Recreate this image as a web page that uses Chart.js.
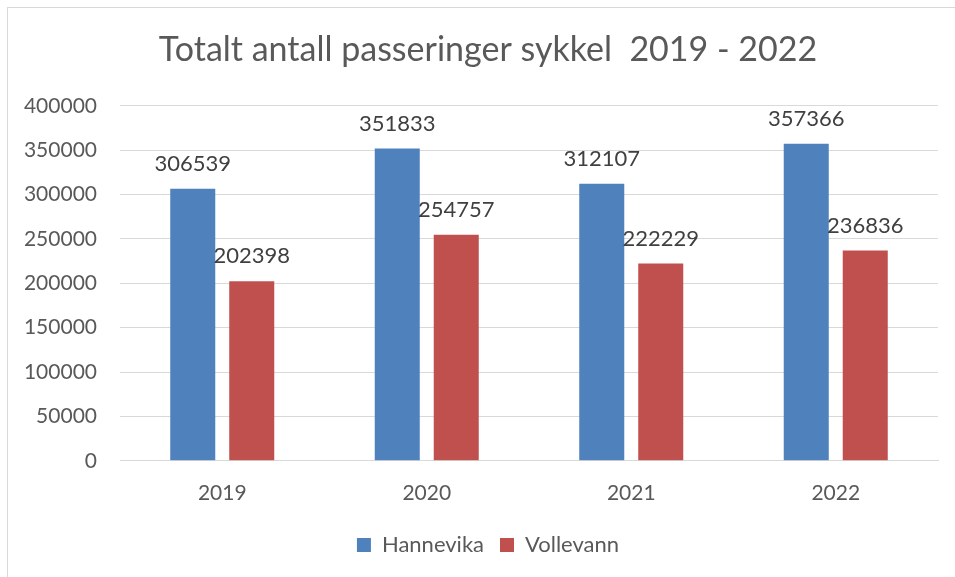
<!DOCTYPE html>
<html>
<head>
<meta charset="utf-8">
<script src="https://cdn.jsdelivr.net/npm/chart.js@4.4.1/dist/chart.umd.min.js"></script>
<style>
  html, body { margin: 0; padding: 0; background: #fff; }
  #wrap { position: relative; width: 955px; height: 577px; }
  #frame { position: absolute; left: 7px; top: 7px; width: 960px; height: 590px; border: 1px solid #d9d9d9; box-sizing: border-box; }
  canvas { position: absolute; left: 0; top: 0; }
</style>
</head>
<body>
<div id="wrap">
  <div id="frame"></div>
  <canvas id="chart" width="955" height="577"></canvas>
</div>
<script>
const years = ['2019', '2020', '2021', '2022'];
const hannevika = [306539, 351833, 312107, 357366];
const vollevann = [202398, 254757, 222229, 236836];
const yTicks = [0, 50000, 100000, 150000, 200000, 250000, 300000, 350000, 400000];

const textColor = '#595959';
const fontFamily = 'Lato, "Open Sans", sans-serif';

// tall på toppen av søylene
const barLabels = {
  id: 'barLabels',
  afterLayout(chart) {
    // tittel og forklaring står litt til høyre for midten i originalen
    chart.titleBlock.left = 38;
    chart.legend.left = 38;
  },
  afterDatasetsDraw(chart) {
    const ctx = chart.ctx;
    ctx.save();
    ctx.fillStyle = '#404040';
    ctx.font = '22px ' + fontFamily;
    ctx.textAlign = 'center';
    ctx.textBaseline = 'bottom';
    chart.data.datasets.forEach((ds, i) => {
      chart.getDatasetMeta(i).data.forEach((bar, j) => {
        ctx.fillText(String(ds.data[j]), bar.x, bar.y - 14);
      });
    });
    ctx.restore();
  }
};

new Chart(document.getElementById('chart'), {
  type: 'bar',
  data: {
    labels: years,
    datasets: [
      { label: 'Hannevika', data: hannevika, backgroundColor: '#4f81bd' },
      { label: 'Vollevann', data: vollevann, backgroundColor: '#c0504d' }
    ]
  },
  options: {
    responsive: false,
    animation: false,
    categoryPercentage: 0.577,
    barPercentage: 0.763,
    layout: { padding: { left: 0, right: 17, top: 0, bottom: 11 } },
    plugins: {
      title: {
        display: true,
        text: 'Totalt antall passeringer sykkel  2019 - 2022',
        color: textColor,
        font: { family: fontFamily, size: 34, weight: 'normal' },
        padding: { top: 30, bottom: 35 }
      },
      legend: {
        position: 'bottom',
        labels: {
          color: textColor,
          font: { family: fontFamily, size: 22 },
          boxWidth: 14,
          boxHeight: 14,
          padding: 16
        }
      },
      tooltip: { enabled: false }
    },
    scales: {
      x: {
        grid: { display: false },
        border: { color: '#d9d9d9' },
        ticks: { color: textColor, font: { family: fontFamily, size: 21 }, padding: 12 }
      },
      y: {
        min: 0,
        max: 400000,
        afterFit: scale => { scale.width = 120; },
        afterBuildTicks: scale => { scale.ticks = yTicks.map(v => ({ value: v })); },
        grid: { color: '#d9d9d9', drawTicks: false },
        border: { display: false },
        ticks: {
          color: textColor,
          font: { family: fontFamily, size: 21 },
          padding: 23,
          callback: v => String(v)
        }
      }
    }
  },
  plugins: [barLabels]
});
</script>
</body>
</html>
